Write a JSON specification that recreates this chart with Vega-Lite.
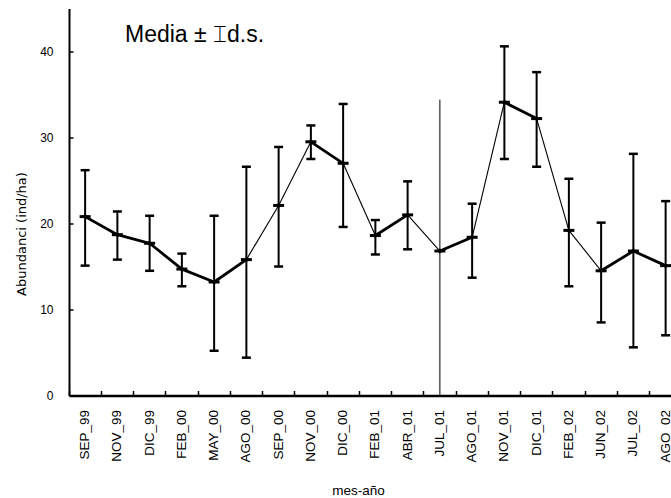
{
  "$schema": "https://vega.github.io/schema/vega-lite/v6.json",
  "width": 602,
  "height": 387,
  "autosize": {"type": "none"},
  "padding": {"left": 69, "top": 8.5, "right": 0, "bottom": 102.5},
  "background": "white",
  "title": {
    "text": "Media ± ⌶d.s.",
    "anchor": "start",
    "orient": "top",
    "frame": "group",
    "dx": 56,
    "dy": 56.5,
    "offset": 0,
    "baseline": "alphabetic",
    "fontSize": 23,
    "fontWeight": "normal",
    "font": "Liberation Sans",
    "color": "black"
  },
  "config": {
    "view": {"stroke": null},
    "font": "Liberation Sans",
    "axis": {
      "grid": false,
      "domainColor": "black",
      "tickColor": "black",
      "labelColor": "black",
      "titleColor": "black",
      "labelFont": "Liberation Sans",
      "titleFont": "Liberation Sans",
      "titleFontWeight": "normal"
    },
    "axisY": {
      "domainWidth": 2,
      "tickSize": -4,
      "tickWidth": 1.5,
      "labelFontSize": 12,
      "labelPadding": 20,
      "titleFont": "DejaVu Sans",
      "titleFontSize": 13
    },
    "axisX": {
      "domainWidth": 2.5,
      "tickSize": -5,
      "tickWidth": 1.5,
      "bandPosition": 0,
      "labelFontSize": 13.5,
      "labelAngle": -90,
      "labelAlign": "right",
      "labelBaseline": "middle",
      "labelPadding": 19,
      "titleFontSize": 13.5
    }
  },
  "datasets": {
    "stats": [
      {"mes": "SEP_99", "mean": 20.8, "lower": 15.1, "upper": 26.2},
      {"mes": "NOV_99", "mean": 18.7, "lower": 15.8, "upper": 21.4},
      {"mes": "DIC_99", "mean": 17.7, "lower": 14.5, "upper": 20.9},
      {"mes": "FEB_00", "mean": 14.7, "lower": 12.7, "upper": 16.5},
      {"mes": "MAY_00", "mean": 13.2, "lower": 5.2, "upper": 20.9},
      {"mes": "AGO_00", "mean": 15.8, "lower": 4.4, "upper": 26.6},
      {"mes": "SEP_00", "mean": 22.1, "lower": 15.0, "upper": 28.9},
      {"mes": "NOV_00", "mean": 29.5, "lower": 27.5, "upper": 31.4},
      {"mes": "DIC_00", "mean": 27.0, "lower": 19.6, "upper": 33.9},
      {"mes": "FEB_01", "mean": 18.6, "lower": 16.4, "upper": 20.4},
      {"mes": "ABR_01", "mean": 21.0, "lower": 17.0, "upper": 24.9},
      {"mes": "JUL_01", "mean": 16.8, "lower": null, "upper": null},
      {"mes": "AGO_01", "mean": 18.4, "lower": 13.7, "upper": 22.3},
      {"mes": "NOV_01", "mean": 34.1, "lower": 27.5, "upper": 40.6},
      {"mes": "DIC_01", "mean": 32.2, "lower": 26.6, "upper": 37.6},
      {"mes": "FEB_02", "mean": 19.2, "lower": 12.7, "upper": 25.2},
      {"mes": "JUN_02", "mean": 14.5, "lower": 8.5, "upper": 20.1},
      {"mes": "JUL_02", "mean": 16.8, "lower": 5.6, "upper": 28.1},
      {"mes": "AGO_02", "mean": 15.1, "lower": 7.0, "upper": 22.6}
    ],
    "segs": [
      {"seg": 1, "mes": "SEP_99", "v": 20.8, "w": "thick"},
      {"seg": 1, "mes": "NOV_99", "v": 18.7, "w": "thick"},
      {"seg": 2, "mes": "NOV_99", "v": 18.7, "w": "thick"},
      {"seg": 2, "mes": "DIC_99", "v": 17.7, "w": "thick"},
      {"seg": 3, "mes": "DIC_99", "v": 17.7, "w": "thick"},
      {"seg": 3, "mes": "FEB_00", "v": 14.7, "w": "thick"},
      {"seg": 4, "mes": "FEB_00", "v": 14.7, "w": "thick"},
      {"seg": 4, "mes": "MAY_00", "v": 13.2, "w": "thick"},
      {"seg": 5, "mes": "MAY_00", "v": 13.2, "w": "thick"},
      {"seg": 5, "mes": "AGO_00", "v": 15.8, "w": "thick"},
      {"seg": 6, "mes": "AGO_00", "v": 15.8, "w": "thin"},
      {"seg": 6, "mes": "SEP_00", "v": 22.1, "w": "thin"},
      {"seg": 7, "mes": "SEP_00", "v": 22.1, "w": "thin"},
      {"seg": 7, "mes": "NOV_00", "v": 29.5, "w": "thin"},
      {"seg": 8, "mes": "NOV_00", "v": 29.5, "w": "thick"},
      {"seg": 8, "mes": "DIC_00", "v": 27.0, "w": "thick"},
      {"seg": 9, "mes": "DIC_00", "v": 27.0, "w": "thin"},
      {"seg": 9, "mes": "FEB_01", "v": 18.6, "w": "thin"},
      {"seg": 10, "mes": "FEB_01", "v": 18.6, "w": "thick"},
      {"seg": 10, "mes": "ABR_01", "v": 21.0, "w": "thick"},
      {"seg": 11, "mes": "ABR_01", "v": 21.0, "w": "thin"},
      {"seg": 11, "mes": "JUL_01", "v": 16.8, "w": "thin"},
      {"seg": 12, "mes": "JUL_01", "v": 16.8, "w": "thick"},
      {"seg": 12, "mes": "AGO_01", "v": 18.4, "w": "thick"},
      {"seg": 13, "mes": "AGO_01", "v": 18.4, "w": "thin"},
      {"seg": 13, "mes": "NOV_01", "v": 34.1, "w": "thin"},
      {"seg": 14, "mes": "NOV_01", "v": 34.1, "w": "thick"},
      {"seg": 14, "mes": "DIC_01", "v": 32.2, "w": "thick"},
      {"seg": 15, "mes": "DIC_01", "v": 32.2, "w": "thin"},
      {"seg": 15, "mes": "FEB_02", "v": 19.2, "w": "thin"},
      {"seg": 16, "mes": "FEB_02", "v": 19.2, "w": "thin"},
      {"seg": 16, "mes": "JUN_02", "v": 14.5, "w": "thin"},
      {"seg": 17, "mes": "JUN_02", "v": 14.5, "w": "thick"},
      {"seg": 17, "mes": "JUL_02", "v": 16.8, "w": "thick"},
      {"seg": 18, "mes": "JUL_02", "v": 16.8, "w": "thick"},
      {"seg": 18, "mes": "AGO_02", "v": 15.1, "w": "thick"}
    ],
    "divider": [
      {"mes": "JUL_01", "bottom": 0, "top": 34.4}
    ]
  },
  "encoding": {
    "x": {
      "field": "mes",
      "type": "nominal",
      "title": "mes-año",
      "axis": {"titleX": 289, "titleY": 94.5, "titleAlign": "center", "titleBaseline": "middle", "titleAnchor": null},
      "scale": {
        "domain": ["SEP_99", "NOV_99", "DIC_99", "FEB_00", "MAY_00", "AGO_00", "SEP_00", "NOV_00", "DIC_00", "FEB_01", "ABR_01", "JUL_01", "AGO_01", "NOV_01", "DIC_01", "FEB_02", "JUN_02", "JUL_02", "AGO_02"],
        "range": [0, 612.75],
        "paddingInner": 0,
        "paddingOuter": 0
      }
    }
  },
  "layer": [
    {
      "data": {"name": "stats"},
      "mark": {"type": "rule", "color": "black", "strokeWidth": 2},
      "encoding": {
        "y": {
          "field": "lower",
          "type": "quantitative",
          "title": "Abundanci (ind/ha)",
          "scale": {"domain": [0, 45], "nice": false},
          "axis": {"values": [0, 10, 20, 30, 40], "titleAngle": -90, "titleX": -48, "titleY": 225, "titleAlign": "center", "titleBaseline": "middle"}
        },
        "y2": {"field": "upper"}
      }
    },
    {
      "data": {"name": "stats"},
      "mark": {"type": "tick", "color": "black", "size": 9, "thickness": 2.5, "opacity": 1},
      "encoding": {
        "y": {"field": "lower", "type": "quantitative", "title": "Abundanci (ind/ha)"}
      }
    },
    {
      "data": {"name": "stats"},
      "mark": {"type": "tick", "color": "black", "size": 9, "thickness": 2.5, "opacity": 1},
      "encoding": {
        "y": {"field": "upper", "type": "quantitative", "title": "Abundanci (ind/ha)"}
      }
    },
    {
      "data": {"name": "divider"},
      "mark": {"type": "rule", "color": "black", "strokeWidth": 1},
      "encoding": {
        "y": {"field": "bottom", "type": "quantitative", "title": "Abundanci (ind/ha)"},
        "y2": {"field": "top"}
      }
    },
    {
      "data": {"name": "segs"},
      "mark": {"type": "line", "color": "black"},
      "encoding": {
        "y": {"field": "v", "type": "quantitative", "title": "Abundanci (ind/ha)"},
        "detail": {"field": "seg", "type": "nominal"},
        "strokeWidth": {"field": "w", "type": "nominal", "scale": {"domain": ["thick", "thin"], "range": [2.8, 1.1]}, "legend": null}
      }
    },
    {
      "data": {"name": "stats"},
      "mark": {"type": "tick", "color": "black", "size": 11, "thickness": 3, "opacity": 1},
      "encoding": {
        "y": {"field": "mean", "type": "quantitative", "title": "Abundanci (ind/ha)"}
      }
    },
    {
      "data": {"name": "stats"},
      "mark": {"type": "point", "shape": "diamond", "filled": true, "color": "black", "size": 30, "opacity": 1},
      "encoding": {
        "y": {"field": "mean", "type": "quantitative", "title": "Abundanci (ind/ha)"}
      }
    }
  ]
}
